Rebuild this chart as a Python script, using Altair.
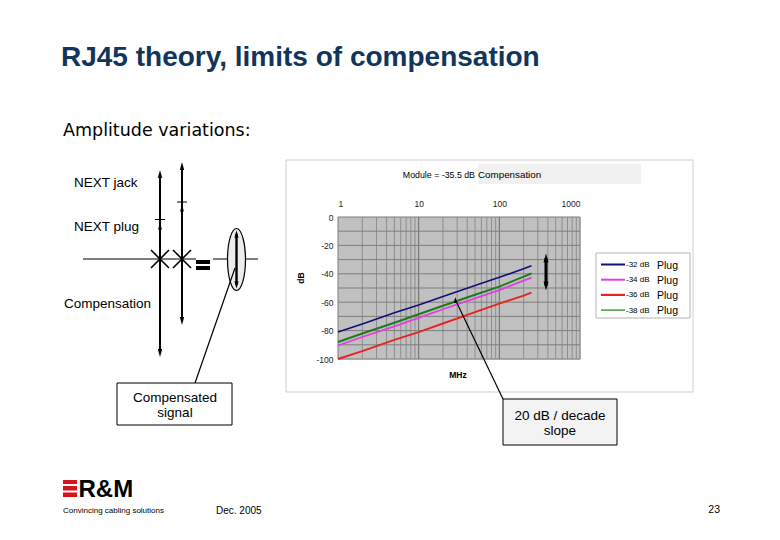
import altair as alt
import pandas as pd

# ---------------- data ----------------
freq_mhz = [1, 2, 5, 10, 20, 50, 100, 200, 250]
series_names = ["-32 dB Plug", "-34 dB Plug", "-36 dB Plug", "-38 dB Plug"]
db_m32 = [-81, -75.3, -67.5, -62, -56, -48.3, -42.5, -36.5, -34.4]
db_m34 = [-90.5, -84.5, -77, -71, -65, -57.3, -51.5, -44.8, -42.7]
db_m36 = [-100, -94.5, -86.5, -81, -75, -67, -61, -55.3, -53.3]
db_m38 = [-88, -82, -74.5, -68.5, -62.5, -54.8, -49, -42, -39.8]
legend_small = ["-32 dB", "-34 dB", "-36 dB", "-38 dB"]
legend_big = ["Plug", "Plug", "Plug", "Plug"]
x_tick_labels = [1, 10, 100, 1000]
y_tick_labels = [0, -20, -40, -60, -80, -100]
x_grid_minor = [2, 3, 4, 5, 6, 7, 8, 9, 20, 30, 40, 50, 60, 70, 80, 90,
                200, 300, 400, 500, 600, 700, 800, 900]
x_grid_major = [10, 100]
y_grid = [-10, -20, -30, -40, -50, -60, -70, -80, -90]

# ---------------- styles ----------------
colors = ["#10107A", "#E23EE2", "#E52424", "#1F7A1F"]
widths = [1.6, 2, 2, 1.6]
legend_widths = [2, 2, 2.2, 1.2]
FONT = "Liberation Sans"

OX, OY = 338, 217          # page position of plot origin
PW, PH = 242, 142          # plot size

one = pd.DataFrame({"k": [0]})


def px(x):
    return alt.value(x - OX)


def py(y):
    return alt.value(y - OY)


def text(s, x, y, size, align="left", baseline="alphabetic", weight="normal",
         color="#000000", font=FONT, angle=0):
    props = dict(text=s, fontSize=size, align=align, baseline=baseline,
                 fontWeight=weight, color=color, font=font)
    if angle:
        props["angle"] = angle
    return alt.Chart(one).mark_text(**props).encode(x=px(x), y=py(y))


def seg(x1, y1, x2, y2, w=1.0, color="#000000"):
    return alt.Chart(one).mark_rule(strokeWidth=w, color=color).encode(
        x=px(x1), y=py(y1), x2=px(x2), y2=py(y2))


def box(x1, y1, x2, y2, fill="#ffffff", stroke="#000000", w=1.0, fillop=1.0):
    return alt.Chart(one).mark_rect(fill=fill, stroke=stroke, strokeWidth=w,
                                    fillOpacity=fillop).encode(
        x=px(x1), y=py(y1), x2=px(x2), y2=py(y2))


UP = "M0,-1L0.55,1L-0.55,1Z"
DOWN = "M0,1L0.55,-1L-0.55,-1Z"


def head(x, y, up=True, half=4.0):
    return alt.Chart(one).mark_point(shape=UP if up else DOWN, filled=True,
                                     color="#000000", size=(2 * half) ** 2,
                                     opacity=1).encode(x=px(x), y=py(y))


def cross(x, y, half=9):
    return alt.Chart(one).mark_point(shape="M-1,-1L1,1M1,-1L-1,1", filled=False,
                                     color="#000000", strokeWidth=1.6,
                                     size=(2 * half) ** 2, opacity=1).encode(
        x=px(x), y=py(y))


k = 0.5523
a = 0.29
ELL = (f"M{a},0 C{a},{k} {a*k:.3f},1 0,1 C{-a*k:.3f},1 {-a},{k} {-a},0 "
       f"C{-a},{-k} {-a*k:.3f},-1 0,-1 C{a*k:.3f},-1 {a},{-k} {a},0 Z")

# ---------------- chart layers ----------------
rows = []
for name, vals in zip(series_names, [db_m32, db_m34, db_m36, db_m38]):
    for f, v in zip(freq_mhz, vals):
        rows.append({"freq": f, "db": v, "series": name})
lines_df = pd.DataFrame(rows)

xscale = alt.Scale(type="log", domain=[1, 1000])
yscale = alt.Scale(domain=[-100, 0])
xaxis = alt.Axis(orient="top", values=x_tick_labels, labelExpr="'' + datum.value",
                 grid=False, ticks=False, domain=False, labelFontSize=8.5,
                 labelColor="#222222", labelPadding=9, title=None, labelFont=FONT)
yaxis = alt.Axis(orient="left", values=y_tick_labels, labelExpr="'' + datum.value",
                 grid=False, ticks=False, domain=False, labelFontSize=8.5,
                 labelColor="#222222", labelPadding=5, title=None, labelFont=FONT)

plot_bg = alt.Chart(one).mark_rect(fill="#C0C0C0", stroke="#7a7a7a",
                                   strokeWidth=1).encode(
    x=alt.value(0), x2=alt.value(PW), y=alt.value(0), y2=alt.value(PH))

grid_minor = alt.Chart(pd.DataFrame({"freq": x_grid_minor})).mark_rule(
    color="#8e8e8e", strokeWidth=1).encode(
    x=alt.X("freq:Q", scale=xscale, axis=xaxis))
grid_major = alt.Chart(pd.DataFrame({"freq": x_grid_major})).mark_rule(
    color="#6a6a6a", strokeWidth=1).encode(
    x=alt.X("freq:Q", scale=xscale, axis=xaxis))
grid_h = alt.Chart(pd.DataFrame({"db": y_grid})).mark_rule(
    color="#7e7e7e", strokeWidth=1).encode(
    y=alt.Y("db:Q", scale=yscale, axis=yaxis))

lines = alt.Chart(lines_df).mark_line().encode(
    x=alt.X("freq:Q", scale=xscale, axis=xaxis),
    y=alt.Y("db:Q", scale=yscale, axis=yaxis),
    color=alt.Color("series:N", scale=alt.Scale(domain=series_names, range=colors),
                    legend=None),
    strokeWidth=alt.StrokeWidth("series:N",
                                scale=alt.Scale(domain=series_names, range=widths),
                                legend=None),
    detail="series:N",
)

layers = []
# chart container & title strip
layers.append(box(286, 160, 693, 392, fill="#ffffff", stroke="#cfcfcf", fillop=0))
layers.append(box(478, 164, 641, 184, fill="#f1f1f1", stroke="#f1f1f1", w=0))
layers += [plot_bg, grid_minor, grid_major, grid_h, lines]
layers.append(text("Module = -35.5 dB", 475, 177.5, 8.8, align="right"))
layers.append(text("Compensation", 478, 178, 9.8))
layers.append(text("dB", 301, 278, 8.5, align="center", baseline="middle",
                   weight="bold", angle=270))
layers.append(text("MHz", 458, 378, 8.5, align="center", weight="bold"))

# legend
layers.append(box(596, 253, 690, 318, fill="#ffffff", stroke="#b4b4b4"))
for i, name in enumerate(series_names):
    yy = 264.5 + 15.2 * i
    layers.append(seg(601, yy, 625, yy, w=legend_widths[i], color=colors[i]))
    layers.append(text(legend_small[i], 626, yy + 2.5, 8))
    layers.append(text(legend_big[i], 657, yy + 4, 10.5))

# double arrow inside chart
layers.append(seg(546, 258, 546, 286, w=3))
layers.append(head(546, 258, up=True, half=4.5))
layers.append(head(546, 286, up=False, half=4.5))

# callout to slope
layers.append(seg(455, 299, 503, 399, w=1.2))
layers.append(head(455.5, 300, up=True, half=3))
layers.append(box(503, 399, 617, 445, fill="#f3f3f3", stroke="#000000"))
layers.append(text("20 dB / decade", 560, 419.5, 13.5, align="center"))
layers.append(text("slope", 560, 434.5, 13.5, align="center"))

# left diagram
layers.append(seg(83, 259, 196, 259, w=1))
layers.append(seg(213, 259, 258, 259, w=1))
layers.append(box(196, 260, 210, 264, fill="#000000", stroke="#000000", w=0))
layers.append(box(196, 266, 210, 270, fill="#000000", stroke="#000000", w=0))
layers.append(seg(160, 174, 160, 353, w=2))
layers.append(head(160, 174, up=True))
layers.append(head(160, 353, up=False))
layers.append(seg(155, 219.5, 165, 219.5, w=1))
layers.append(head(160, 226, up=True, half=3.5))
layers.append(seg(182, 166, 182, 321, w=2))
layers.append(head(182, 166, up=True))
layers.append(head(182, 321, up=False))
layers.append(seg(177, 202, 187, 202, w=1))
layers.append(head(182, 208, up=True, half=3.5))
layers.append(cross(160, 259))
layers.append(cross(182, 259))
layers.append(alt.Chart(one).mark_point(shape=ELL, filled=True, fill="#ececec",
                                        stroke="#000000", strokeWidth=1.2,
                                        size=62 ** 2, opacity=1, fillOpacity=1).encode(
    x=px(236.5), y=py(259.5)))
layers.append(seg(236.5, 234, 236.5, 285, w=2.4))
layers.append(head(236.5, 234, up=True, half=3.8))
layers.append(head(236.5, 285, up=False, half=3.8))
layers.append(seg(195, 383, 235, 268, w=1.2))
layers.append(box(117, 383, 232, 425, fill="#ffffff", stroke="#000000"))
layers.append(text("Compensated", 175, 401.5, 13.5, align="center"))
layers.append(text("signal", 175, 416.5, 13.5, align="center"))
layers.append(text("NEXT jack", 74, 187, 13.5))
layers.append(text("NEXT plug", 74, 230.5, 13.5))
layers.append(text("Compensation", 64, 308, 13.5))

# slide title & subtitle
layers.append(text("RJ45 theory, limits of compensation", 61, 66, 28,
                   weight="bold", color="#12355C"))
layers.append(text("Amplitude variations:", 63, 136, 17.5, font="DejaVu Sans"))

# footer
layers.append(box(63, 480, 77, 484, fill="#D7141A", stroke="#D7141A", w=0))
layers.append(box(63, 486, 77, 490.5, fill="#D7141A", stroke="#D7141A", w=0))
layers.append(box(63, 492.5, 77, 497, fill="#D7141A", stroke="#D7141A", w=0))
layers.append(text("R&M", 78.5, 497, 24, weight="bold"))
layers.append(text("Convincing cabling solutions", 63, 513, 8))
layers.append(text("Dec. 2005", 216, 514, 10))
layers.append(text("23", 720, 513, 10.5, align="right"))

chart = alt.layer(*layers).properties(
    width=PW, height=PH,
    autosize=alt.AutoSizeParams(type="none"),
    padding={"left": OX - 8, "top": OY - 8,
             "right": 764 - (OX - 8) - PW, "bottom": 524 - (OY - 8) - PH},
).configure_view(stroke=None
).configure(background="#ffffff", font=FONT)

chart.save("out.html", embed_options={"renderer": "svg", "actions": False})
